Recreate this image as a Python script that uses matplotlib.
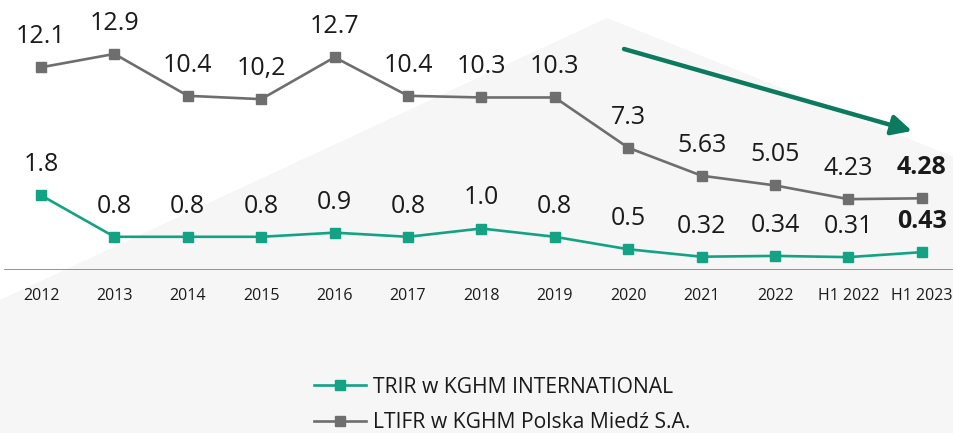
import matplotlib.pyplot as plt
from matplotlib.patches import Polygon

plt.rcParams['font.family'] = ['Open Sans', 'DejaVu Sans']

# dane
years = ['2012', '2013', '2014', '2015', '2016', '2017', '2018', '2019',
         '2020', '2021', '2022', 'H1 2022', 'H1 2023']
ltifr = [12.1, 12.9, 10.4, 10.2, 12.7, 10.4, 10.3, 10.3, 7.3, 5.63, 5.05, 4.23, 4.28]
ltifr_txt = ['12.1', '12.9', '10.4', '10,2', '12.7', '10.4', '10.3', '10.3',
             '7.3', '5.63', '5.05', '4.23', '4.28']
trir = [1.8, 0.8, 0.8, 0.8, 0.9, 0.8, 1.0, 0.8, 0.5, 0.32, 0.34, 0.31, 0.43]
trir_txt = ['1.8', '0.8', '0.8', '0.8', '0.9', '0.8', '1.0', '0.8',
            '0.5', '0.32', '0.34', '0.31', '0.43']

teal = '#13a384'
gray = '#6e6e6e'
arrow_c = '#0b7a5f'
txt_c = '#1a1a1a'

W, H = 954, 433
fig = plt.figure(figsize=(W / 100, H / 100), dpi=100)
fig.patch.set_facecolor('white')

# tlo - jasnoszary "szczyt"
bg = Polygon([(0, 1 - 300 / H), (607 / W, 1 - 18 / H), (1, 1 - 157 / H),
              (1, 0), (0, 0)], closed=True, transform=fig.transFigure,
             facecolor='#f6f6f6', edgecolor='none', zorder=-5)
fig.patches.append(bg)

ax = fig.add_axes([0, 1 - 270 / H, 1, 270 / H])
ax2 = ax.twinx()
for a in (ax, ax2):
    a.set_facecolor('none')
    for s in a.spines.values():
        s.set_visible(False)
    a.tick_params(left=False, right=False, labelleft=False, labelright=False)

x = list(range(len(years)))
step = 73.4
ax.set_xlim(-41 / step, (W - 41) / step)
ax.set_ylim(0, 270 / 16.75)
ax2.set_ylim(0, 270 / 41.5)

l1, = ax.plot(x, ltifr, color=gray, lw=1.9, marker='s', ms=7, zorder=3)
l2, = ax2.plot(x, trir, color=teal, lw=1.9, marker='s', ms=7, zorder=3)

for i in x:
    bold = 'bold' if i == len(x) - 1 else 'normal'
    ax.annotate(ltifr_txt[i], (i, ltifr[i]), xytext=(0, 22), textcoords='offset points',
                ha='center', va='center', fontsize=18, color=txt_c, fontweight=bold)
    ax2.annotate(trir_txt[i], (i, trir[i]), xytext=(0, 22), textcoords='offset points',
                 ha='center', va='center', fontsize=18, color=txt_c, fontweight=bold)

# os x
ax.axhline(0, xmin=5 / W, xmax=1, color='#8a8a8a', lw=1.3, zorder=2)
ax.set_xticks(x)
ax.set_xticklabels(years, fontsize=11.5, color=txt_c)
ax.tick_params(axis='x', length=0, pad=13)

# strzalka trendu
ax.annotate('', xy=(912 / W, 1 - 131 / H), xytext=(624 / W, 1 - 49 / H),
            xycoords='figure fraction', textcoords='figure fraction',
            arrowprops=dict(arrowstyle='-|>,head_length=1.2,head_width=0.6',
                            color=arrow_c, lw=3.2, shrinkA=0, shrinkB=0))

fig.legend([l2, l1], ['TRIR w KGHM INTERNATIONAL', 'LTIFR w KGHM Polska Miedź S.A.'],
           loc='upper left', bbox_to_anchor=(303 / W, 1 - 366 / H), frameon=False,
           fontsize=15.2, handlelength=2.5, handletextpad=0.3, labelspacing=0.7,
           borderpad=0, numpoints=1, labelcolor=txt_c)

fig.savefig('out.png', dpi=100)
